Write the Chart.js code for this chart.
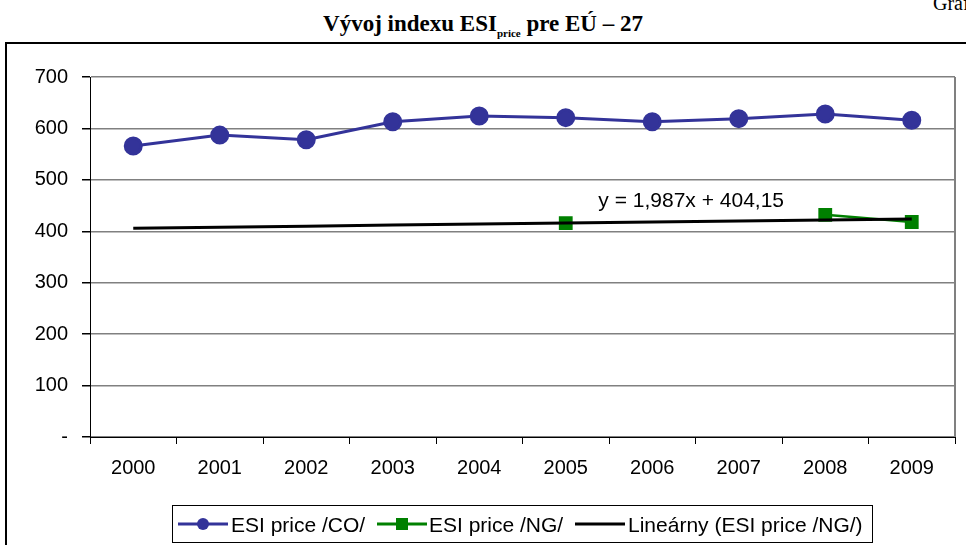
<!DOCTYPE html>
<html>
<head>
<meta charset="utf-8">
<script src="https://cdn.jsdelivr.net/npm/chart.js@4/dist/chart.umd.min.js"></script>
<style>
  html, body { margin:0; padding:0; width:966px; height:545px; overflow:hidden; background:#fff; }
  #frame { position:absolute; left:5px; top:42px; width:1000px; height:600px; border:2px solid #000; box-sizing:border-box; }
  #wrap { position:absolute; left:0; top:0; width:966px; height:545px; }
  #title { position:absolute; left:0; width:966px; top:11px; text-align:center; font-family:"Liberation Serif","Times New Roman",serif; font-weight:bold; font-size:23px; color:#000; }
  #title sub { font-size:11px; vertical-align:-6px; }
  #graf { position:absolute; left:933px; top:-8px; font-family:"Liberation Serif",serif; font-size:20px; white-space:nowrap; }
  #legend { position:absolute; left:172px; top:505px; width:701px; height:38px; border:1px solid #000; box-sizing:border-box; font-family:"Liberation Sans",Arial,sans-serif; font-size:21px; color:#000; white-space:nowrap; }
  #legend svg, #legend span { position:absolute; top:50%; transform:translateY(-50%); }
  #legend span { line-height:1; }
</style>
</head>
<body>
<div id="frame"></div>
<div id="graf">Graf č.</div>
<div id="title">Vývoj indexu ESI<sub>price</sub> pre EÚ – 27</div>
<div id="wrap"><canvas id="c" width="966" height="545"></canvas></div>
<div id="legend">
  <svg style="left:5px" width="50" height="16"><line x1="0" y1="8" x2="50" y2="8" stroke="#333399" stroke-width="3"/><circle cx="25" cy="8" r="6" fill="#333399"/></svg><span style="left:58px">ESI price /CO/</span>
  <svg style="left:204px" width="50" height="16"><line x1="0" y1="8" x2="50" y2="8" stroke="#008000" stroke-width="3"/><rect x="19" y="2" width="12" height="12" fill="#008000"/></svg><span style="left:256px">ESI price /NG/</span>
  <svg style="left:402px" width="50" height="16"><line x1="0" y1="8" x2="50" y2="8" stroke="#000" stroke-width="3"/></svg><span style="left:455px">Lineárny (ESI price /NG/)</span>
</div>
<script>
const years = ['2000','2001','2002','2003','2004','2005','2006','2007','2008','2009'];
const esiCO = [566, 587, 578, 613, 624, 621, 613, 619, 628, 616];
const esiNG = [null, null, null, null, null, 416, null, null, 432, 418];
const trendNG = [406, 408, 410, 412, 414, 416, 418, 420, 422, 424];
const trendLabel = 'y = 1,987x + 404,15';
const yTicks = [0, 100, 200, 300, 400, 500, 600, 700];

const FONT = '"Liberation Sans", Arial, sans-serif';

const frame = {
  id: 'plotFrame',
  beforeDatasetsDraw(chart) {
    const a = chart.chartArea, ctx = chart.ctx;
    ctx.save();
    ctx.strokeStyle = '#808080';
    ctx.lineWidth = 2;
    ctx.beginPath();
    ctx.moveTo(a.right, a.top);
    ctx.lineTo(a.right, a.bottom);
    ctx.stroke();
    ctx.restore();
  },
  afterDatasetsDraw(chart) {
    const ctx = chart.ctx;
    const xs = chart.scales.x, ys = chart.scales.y;
    ctx.save();
    ctx.font = '21px ' + FONT;
    ctx.fillStyle = '#000';
    ctx.textAlign = 'center';
    ctx.textBaseline = 'middle';
    ctx.fillText(trendLabel, xs.getPixelForValue(6.45), ys.getPixelForValue(458));
    ctx.restore();
  }
};

new Chart(document.getElementById('c'), {
  type: 'line',
  data: {
    labels: years,
    datasets: [
      { label: 'Lineárny (ESI price /NG/)', data: trendNG, borderColor: '#000', borderWidth: 3, pointRadius: 0, order: 1 },
      { label: 'ESI price /NG/', data: esiNG, borderColor: '#008000', backgroundColor: '#008000', borderWidth: 2.5, pointStyle: 'rect', pointRadius: 8, spanGaps: false, order: 2 },
      { label: 'ESI price /CO/', data: esiCO, borderColor: '#333399', backgroundColor: '#333399', borderWidth: 3, pointStyle: 'circle', pointRadius: 8, order: 3 }
    ]
  },
  options: {
    responsive: false,
    animation: false,
    layout: { padding: { left: 0, top: 77, right: 9, bottom: 48 } },
    plugins: { legend: { display: false }, title: { display: false }, tooltip: { enabled: false } },
    scales: {
      x: {
        offset: true,
        grid: { offset: true, drawOnChartArea: false, drawTicks: true, tickLength: 7, tickColor: '#000' },
        border: { color: '#000', width: 1 },
        ticks: { color: '#000', font: { family: FONT, size: 20 }, padding: 12, maxRotation: 0 },
        afterFit(s) { s.height = 60; }
      },
      y: {
        min: 0, max: 700,
        afterBuildTicks(s) { s.ticks = yTicks.map(v => ({ value: v })); },
        grid: { color: '#808080', lineWidth: 1.5, tickLength: 8, tickColor: '#000' },
        border: { color: '#000', width: 1 },
        ticks: { color: '#000', font: { family: FONT, size: 20 }, padding: 14, callback: v => v === 0 ? '-' : String(v) },
        afterFit(s) { s.width = 90; }
      }
    }
  },
  plugins: [frame]
});
</script>
</body>
</html>
